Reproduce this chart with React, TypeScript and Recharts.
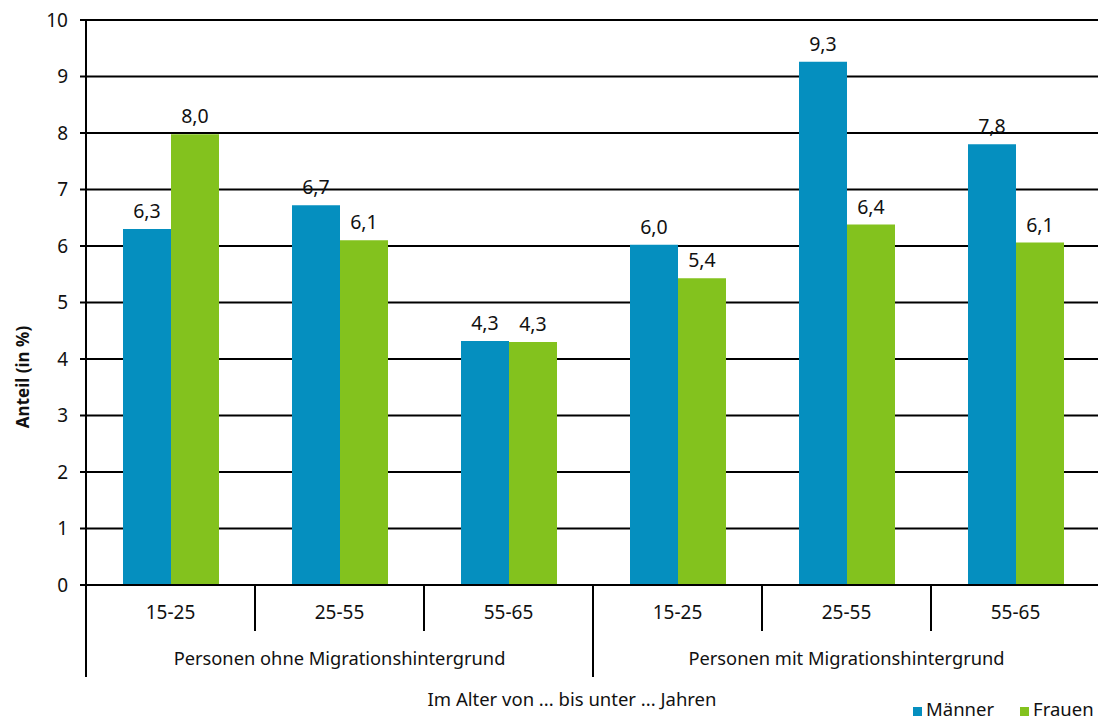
import { BarChart, Bar, XAxis, YAxis, CartesianGrid, LabelList } from "recharts";

const ageGroups = ["15-25", "25-55", "55-65", "15-25", "25-55", "55-65"];
const groupLabels = ["Personen ohne Migrationshintergrund", "Personen mit Migrationshintergrund"];
const maenner = [6.3, 6.72, 4.32, 6.02, 9.26, 7.8];
const frauen = [7.98, 6.1, 4.3, 5.43, 6.38, 6.06];
const yTicks = [0, 1, 2, 3, 4, 5, 6, 7, 8, 9, 10];

const data = ageGroups.map((age, i) => ({ age, key: i, maenner: maenner[i], frauen: frauen[i] }));

const FONT = "'Noto Sans', sans-serif";
const BLUE = "#058fbf";
const GREEN = "#83c21e";

const fmt = (v: any) => Number(v).toFixed(1).replace(".", ",");

function GroupTick(props: any) {
  const { x, y, payload, index } = props;
  const half = payload?.offset || 84.5;
  const left = x - half;
  const groupStart = index % 3 === 0;
  return (
    <g>
      <line x1={left} y1={y} x2={left} y2={y + (groupStart ? 92 : 46)} stroke="#000" strokeWidth={2} />
      {index === ageGroups.length - 1 && (
        <line x1={x + half} y1={y} x2={x + half} y2={y + 92} stroke="#000" strokeWidth={2} />
      )}
      <text x={x} y={y + 34} textAnchor="middle" fontSize={19} fontFamily={FONT} fill="#111">
        {ageGroups[index]}
      </text>
      {index % 3 === 1 && (
        <text x={x} y={y + 80} textAnchor="middle" fontSize={18.3} fontFamily={FONT} fill="#111">
          {groupLabels[Math.floor(index / 3)]}
        </text>
      )}
    </g>
  );
}

export default function App() {
  return (
    <div style={{ position: "absolute", left: 0, top: 0, width: 1098, height: 724, overflow: "hidden", background: "#fff", fontFamily: FONT }}>
      <BarChart
        width={1102}
        height={724}
        data={data}
        margin={{ top: 20, right: 2, left: 0, bottom: 0 }}
        barSize={48}
        barGap={0}
      >
        <CartesianGrid vertical={false} stroke="#000" strokeWidth={2} />
        <XAxis
          dataKey="key"
          height={139}
          tickSize={0}
          tickMargin={0}
          tickLine={false}
          axisLine={{ stroke: "#000", strokeWidth: 2 }}
          tick={<GroupTick />}
          interval={0}
        />
        <YAxis
          width={86}
          domain={[0, 10]}
          ticks={yTicks}
          tickSize={6}
          tickMargin={12}
          axisLine={{ stroke: "#000", strokeWidth: 2 }}
          tickLine={{ stroke: "#000", strokeWidth: 2 }}
          tick={{ fontSize: 19, fill: "#111", fontFamily: FONT }}
        />
        <Bar dataKey="maenner" fill={BLUE} isAnimationActive={false}>
          <LabelList dataKey="maenner" position="top" offset={11} formatter={fmt} style={{ fontSize: 19.5, fill: "#111", fontFamily: FONT }} />
        </Bar>
        <Bar dataKey="frauen" fill={GREEN} isAnimationActive={false}>
          <LabelList dataKey="frauen" position="top" offset={11} formatter={fmt} style={{ fontSize: 19.5, fill: "#111", fontFamily: FONT }} />
        </Bar>
      </BarChart>
      <div
        style={{
          position: "absolute",
          left: 22,
          top: 377,
          transform: "translate(-50%, -50%) rotate(-90deg)",
          whiteSpace: "nowrap",
          fontWeight: "bold",
          fontSize: 17,
          color: "#111",
        }}
      >
        Anteil (in %)
      </div>
      <div
        style={{
          position: "absolute",
          left: 572,
          top: 698,
          transform: "translate(-50%, -50%)",
          whiteSpace: "nowrap",
          fontSize: 18.5,
          color: "#111",
        }}
      >
        Im Alter von ... bis unter ... Jahren
      </div>
      <div style={{ position: "absolute", left: 913, top: 698, display: "flex", alignItems: "center", fontSize: 18.5, lineHeight: "22px", color: "#111", whiteSpace: "nowrap" }}>
        <span style={{ width: 9, height: 9, background: BLUE, marginRight: 4, marginTop: 4 }} />
        <span>Männer</span>
        <span style={{ width: 9, height: 9, background: GREEN, marginLeft: 26, marginRight: 4, marginTop: 4 }} />
        <span>Frauen</span>
      </div>
    </div>
  );
}
